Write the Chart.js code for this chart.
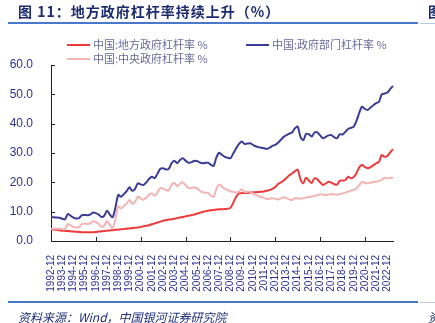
<!DOCTYPE html>
<html>
<head>
<meta charset="utf-8">
<script src="https://cdn.jsdelivr.net/npm/chart.js@4.4.0/dist/chart.umd.min.js"></script>
<style>
html, body { margin: 0; padding: 0; background: #fff; }
#wrap { position: relative; width: 435px; height: 323px; overflow: hidden; font-family: "Noto Sans CJK SC", sans-serif; }
#myChart { position: absolute; left: 0; top: 0; }
.title { position: absolute; left: 18px; top: 1px; font-size: 14px; font-weight: bold; color: #1c2b6e; white-space: nowrap; letter-spacing: 1px; }
.cut { position: absolute; left: 428px; font-size: 14px; color: #1c2b6e; white-space: nowrap; }
.rule { position: absolute; left: 8px; width: 410px; height: 2px; background: #4a78c8; }
.rule2 { position: absolute; left: 420px; width: 15px; height: 1px; background: #b9c9e6; }
.legend { position: absolute; font-size: 11px; color: #6a6a9c; white-space: nowrap; line-height: 14px; }
.legend i { display: inline-block; width: 23px; height: 2px; vertical-align: middle; margin-right: 3px; position: relative; top: -1px; }
.source { position: absolute; left: 18px; top: 308px; font-size: 12px; font-style: italic; color: #1f2f7a; white-space: nowrap; }
</style>
</head>
<body>
<div id="wrap">
    <canvas id="myChart" width="435" height="323"></canvas>
    <div class="title">图 11：地方政府杠杆率持续上升（%）</div>
    <div class="cut" style="top:1px;font-weight:bold;">图</div>
    <div class="rule" style="top:22px;"></div>
    <div class="rule2" style="top:23px;"></div>
    <div class="legend" style="left:67px;top:37px;"><i style="background:#ee3a3a"></i>中国:地方政府杠杆率 %</div>
    <div class="legend" style="left:246px;top:37px;"><i style="background:#3c3c96"></i>中国:政府部门杠杆率 %</div>
    <div class="legend" style="left:67px;top:51px;"><i style="background:#f3b4b4"></i>中国:中央政府杠杆率 %</div>
    <div class="rule" style="top:301px;"></div>
    <div class="rule2" style="top:302px;"></div>
    <div class="source">资料来源：Wind，中国银河证券研究院</div>
    <div class="cut" style="top:308px;font-style:italic;font-size:12px;">资</div>
</div>
<script>
// 季度标签 1992-12 ~ 2023-06
var labels = [];
for (var yr = 1992; yr <= 2023; yr++) {
    ['03', '06', '09', '12'].forEach(function (m) {
        var s = yr + '-' + m;
        if (s >= '1992-12' && s <= '2023-06') labels.push(s);
    });
}

var yTicks = [0, 10, 20, 30, 40, 50, 60];

var localGov = [
    4.0, 3.9, 3.8, 3.7, 3.5, 3.45, 3.4, 3.3, 3.2, 3.15,
    3.1, 3.0, 3.0, 3.0, 3.0, 3.0, 3.05, 3.2, 3.3, 3.4,
    3.5, 3.6, 3.7, 3.8, 3.9, 4.0, 4.1, 4.2, 4.3, 4.4,
    4.5, 4.6, 4.8, 5.0, 5.2, 5.4, 5.7, 6.0, 6.3, 6.6,
    6.9, 7.1, 7.3, 7.4, 7.6, 7.8, 8.0, 8.2, 8.4, 8.6,
    8.8, 9.0, 9.3, 9.6, 9.9, 10.1, 10.3, 10.5, 10.6, 10.7,
    10.8, 10.8, 10.9, 11.0, 11.3, 13.0, 15.0, 16.2, 16.3, 16.4,
    16.4, 16.5, 16.6, 16.6, 16.7, 16.8, 16.9, 17.1, 17.4, 17.8,
    18.4, 19.4, 20.0, 20.6, 21.5, 22.4, 23.0, 23.8, 24.3, 21.0,
    19.7, 21.6, 20.6, 19.8, 21.4, 21.0, 20.0, 19.1, 19.6, 20.2,
    19.9, 19.4, 19.2, 20.5, 20.6, 20.8, 21.9, 21.4, 21.8, 23.2,
    25.2, 25.9, 25.2, 24.8, 25.2, 25.8, 26.5, 27.0, 29.3, 28.7,
    29.0, 30.2, 31.3
];

var centralGov = [
    4.1, 4.2, 4.2, 4.2, 4.1, 4.0, 5.8, 5.3, 4.8, 4.6,
    4.7, 5.8, 5.9, 5.8, 6.0, 6.7, 6.45, 5.8, 4.9, 5.2,
    6.8, 5.4, 4.4, 7.7, 11.8, 11.1, 11.9, 12.8, 14.0, 12.7,
    13.3, 15.1, 14.5, 14.1, 14.8, 15.8, 16.2, 15.4, 16.7, 18.0,
    17.9, 17.3, 17.3, 19.1, 19.8, 18.7, 19.6, 20.0, 19.0, 18.1,
    18.0, 18.3, 18.0, 17.2, 16.6, 16.5, 16.4, 15.5, 15.0, 17.8,
    19.3, 18.5, 17.8, 17.4, 16.9, 16.8, 16.5, 16.8, 17.6, 16.7,
    16.8, 16.8, 16.2, 15.7, 15.3, 15.0, 14.7, 14.3, 14.4, 14.6,
    14.4, 14.1, 14.5, 14.9, 14.6, 14.2, 14.0, 14.6, 14.6, 14.4,
    14.6, 14.8, 15.0, 15.1, 15.4, 15.6, 15.9, 15.8, 15.7, 15.8,
    16.0, 15.9, 15.8, 16.0, 16.2, 16.5, 16.8, 17.2, 17.4, 18.0,
    19.0, 20.2, 19.8, 19.7, 19.9, 20.2, 20.2, 20.5, 20.8, 21.6,
    21.3, 21.6, 21.4
];

var totalGov = [
    8.1, 8.1, 8.0, 7.9, 7.6, 7.4, 9.2, 8.6, 8.0, 7.7,
    7.8, 8.8, 8.9, 8.8, 9.0, 9.7, 9.5, 9.0, 8.2, 8.6,
    10.3, 9.0, 8.1, 11.5, 15.7, 15.1, 16.0, 17.0, 18.3, 17.1,
    17.8, 19.7, 19.3, 19.1, 20.0, 21.2, 21.9, 21.4, 23.0, 24.6,
    24.8, 24.4, 24.6, 26.5, 27.4, 26.5, 27.6, 28.2, 27.4, 26.7,
    26.8, 27.3, 27.3, 26.8, 26.5, 26.6, 26.7, 26.0, 25.6, 28.5,
    30.1, 29.3, 28.7, 28.4, 28.2, 29.8, 31.5, 33.0, 33.9, 33.1,
    33.2, 33.3, 32.8, 32.3, 32.0, 31.8, 31.6, 31.4, 31.8, 32.4,
    32.8, 33.5, 34.5, 35.5, 36.1, 36.6, 37.0, 38.4, 39.0, 35.5,
    34.4, 36.5, 36.4, 35.6, 37.0, 37.0, 36.0, 35.0, 35.5, 36.0,
    36.1, 35.4, 35.0, 36.4, 36.3, 37.2, 38.2, 38.6, 39.0, 41.0,
    43.8, 45.8, 45.0, 44.7, 45.5, 46.3, 47.0, 47.5, 50.0, 50.3,
    50.6, 51.8, 52.9
];

// 刻度朝内
var innerTicks = {
    id: 'innerTicks',
    afterDraw: function (chart) {
        var c = chart.ctx, xs = chart.scales.x, ys = chart.scales.y;
        c.save();
        c.strokeStyle = '#222';
        c.lineWidth = 1;
        c.beginPath();
        xs.ticks.forEach(function (t, i) {
            if (labels[i].slice(5) === '12') {
                var px = Math.round(xs.getPixelForTick(i)) + 0.5;
                c.moveTo(px, xs.top);
                c.lineTo(px, xs.top - 4);
            }
        });
        ys.ticks.forEach(function (t, i) {
            var py = Math.round(ys.getPixelForTick(i)) + 0.5;
            c.moveTo(ys.right, py);
            c.lineTo(ys.right + 4, py);
        });
        c.stroke();
        c.restore();
    }
};

var ctx = document.getElementById('myChart');
new Chart(ctx, {
    type: 'line',
    data: {
        labels: labels,
        datasets: [{
            label: '中国:中央政府杠杆率 %',
            data: centralGov,
            borderColor: '#f3b4b4',
            borderWidth: 2
        }, {
            label: '中国:地方政府杠杆率 %',
            data: localGov,
            borderColor: '#ee3a3a',
            borderWidth: 2
        }, {
            label: '中国:政府部门杠杆率 %',
            data: totalGov,
            borderColor: '#3c3c96',
            borderWidth: 2
        }]
    },
    options: {
        responsive: false,
        animation: false,
        elements: {
            point: { radius: 0 },
            line: { tension: 0.3 }
        },
        layout: {
            padding: { left: 0, top: 65, right: 42, bottom: 0 }
        },
        scales: {
            x: {
                offset: false,
                grid: { display: false },
                border: { color: '#222', width: 1 },
                afterFit: function (s) { s.height = 82; },
                ticks: {
                    autoSkip: false,
                    minRotation: 90,
                    maxRotation: 90,
                    padding: 6,
                    color: '#2e3192',
                    font: { family: 'Arial, "Liberation Sans", sans-serif', size: 10 },
                    callback: function (v, i) {
                        return labels[i].slice(5) === '12' ? labels[i] : null;
                    }
                }
            },
            y: {
                min: 0,
                max: 60,
                grid: { display: false },
                border: { color: '#222', width: 1 },
                afterFit: function (s) { s.width = 51; },
                afterBuildTicks: function (s) {
                    s.ticks = yTicks.map(function (v) { return { value: v }; });
                },
                ticks: {
                    padding: 10,
                    color: '#2e3192',
                    font: { family: 'Arial, "Liberation Sans", sans-serif', size: 12 },
                    callback: function (v) { return v.toFixed(1); }
                }
            }
        },
        plugins: {
            legend: { display: false },
            tooltip: { enabled: false }
        }
    },
    plugins: [innerTicks]
});
</script>
</body>
</html>
